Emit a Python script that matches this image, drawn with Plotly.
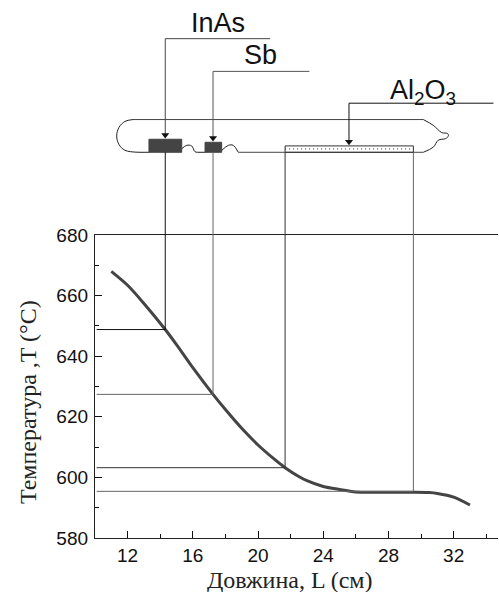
import plotly.graph_objects as go

# Temperature profile along the ampoule
length_cm = [11.0, 12.0, 13.0, 14.31, 15.0, 16.0, 17.24, 18.0, 19.0, 20.0, 21.0, 21.66,
             22.5, 23.0, 24.0, 25.0, 26.0, 27.0, 28.0, 29.53, 30.5, 31.0, 32.0, 33.0]
temp_c = [668.0, 663.4, 657.4, 648.8, 643.8, 636.2, 627.4, 622.4, 616.2, 610.7, 606.0, 603.2,
          600.3, 598.9, 597.0, 596.0, 595.2, 595.1, 595.1, 595.1, 595.0, 594.7, 593.5, 590.9]

# Source-zone positions and their read-off temperatures
zone_x = [14.31, 17.24, 21.66, 29.53]
zone_t = [648.8, 627.4, 603.2, 595.4]
zone_colors = ["#111111", "#666666", "#333333", "#666666"]

# Ampoule schematic, expressed in the same axis units
tube_bottom = 707.3
tube_top = 718.1
left_x = [12.33, 11.84, 11.47, 11.33, 11.47, 11.84, 12.76]
left_t = [718.1, 717.5, 715.5, 712.7, 709.9, 707.95, 707.3]
right_x = [30.14, 30.75, 31.27, 31.62, 31.68, 31.49, 31.06, 30.75, 30.14]
right_t = [718.1, 716.2, 713.8, 713.5, 712.7, 711.8, 711.3, 709.0, 707.3]
neck1_x = [15.32, 15.63, 15.93, 16.13, 16.3]
neck1_t = [708.5, 709.6, 709.4, 707.5, 707.3]
neck2_x = [17.77, 18.18, 18.48, 18.79]
neck2_t = [707.9, 709.6, 709.6, 707.3]
inas_x = [13.31, 15.32]
inas_t = 711.6
sb_x = [16.75, 17.77]
sb_t = 710.6
oxide_x = [21.66, 29.53]
oxide_t = 709.4

X_RANGE = [10, 34.72]
Y_RANGE = [580, 680]
Y_FULL = [580, 757.56]

fig = go.Figure()


def line(xs, ys, color="#222222", width=1.0, shape="linear", dash="solid"):
    fig.add_trace(go.Scatter(x=xs, y=ys, mode="lines", xaxis="x2", yaxis="y2", hoverinfo="skip",
                             line=dict(color=color, width=width, shape=shape, dash=dash,
                                       **({"smoothing": 1.0} if shape == "spline" else {}))))


def block(xs, top, color):
    fig.add_trace(go.Scatter(x=[xs[0], xs[1], xs[1], xs[0], xs[0]],
                             y=[top, top, tube_bottom, tube_bottom, top],
                             mode="lines", fill="toself", fillcolor=color, xaxis="x2", yaxis="y2",
                             hoverinfo="skip", line=dict(color=color, width=1)))


# Tube outline
line(left_x, left_t, shape="spline")
line(right_x, right_t, shape="spline")
line(neck1_x, neck1_t, shape="spline")
line(neck2_x, neck2_t, shape="spline")
line([left_x[0], right_x[0]], [tube_top, tube_top], color="#444444")
line([left_x[-1], inas_x[0]], [tube_bottom, tube_bottom])
line([neck1_x[-1], sb_x[0]], [tube_bottom, tube_bottom])
line([neck2_x[-1], right_x[-1]], [tube_bottom, tube_bottom], color="#444444")

# Charges
block(inas_x, inas_t, "#444444")
block(sb_x, sb_t, "#444444")
line([oxide_x[0], oxide_x[1], oxide_x[1], oxide_x[0], oxide_x[0]],
     [oxide_t, oxide_t, tube_bottom, tube_bottom, oxide_t], color="#333333")
line(oxide_x, [708.4, 708.4], color="#333333", width=1, dash="1px 3px")

# Leaders with arrowheads
leader_x = [[20.74, 14.31, 14.31], [23.15, 17.24, 17.24], [34.44, 25.58, 25.58]]
leader_t = [[744.8, 744.8, 712.6], [734.0, 734.0, 711.6], [723.5, 723.5, 710.4]]
leader_colors = ["#444444", "#555555", "#111111"]
for lx, lt, lc in zip(leader_x, leader_t, leader_colors):
    line(lx, lt, color=lc)
fig.add_trace(go.Scatter(x=[14.31, 17.24, 25.58], y=[713.0, 712.0, 710.8], mode="markers", xaxis="x2", yaxis="y2",
                         hoverinfo="skip",
                         marker=dict(symbol="triangle-down", size=7, color="#111111", line=dict(width=0))))

# Drop lines to the curve and across to the temperature axis
for zx, zt, zc in zip(zone_x, zone_t, zone_colors):
    line([zx, zx, 10.1], [tube_bottom, zt, zt], color=zc)

# Measured curve
fig.add_trace(go.Scatter(x=length_cm, y=temp_c, mode="lines", hoverinfo="skip",
                         line=dict(color="#444444", width=3, shape="spline", smoothing=0.8)))

label_font = dict(family="Liberation Sans, Arial, sans-serif", size=27, color="#111111")
for txt, lx, lt in [("InAs", 17.53, 749.9), ("Sb", 20.18, 739.3), ("Al<sub>2</sub>O<sub>3</sub>", 30.14, 727.2)]:
    fig.add_annotation(x=lx, y=lt, xref="x2", yref="y2", text=txt, showarrow=False, font=label_font)

title_font = dict(family="Liberation Serif, Times New Roman, serif", size=24, color="#222222")
tick_font = dict(family="Liberation Sans, Arial, sans-serif", size=19, color="#111111")

fig.add_annotation(text="Довжина, L (см)", xref="paper", yref="paper", x=0.4839, y=-0.078,
                   xanchor="center", yanchor="middle", showarrow=False, font=title_font)
fig.add_annotation(text="Температура ,T (°C)", xref="paper", yref="paper", x=-0.166, y=0.2528,
                   xanchor="center", yanchor="middle", showarrow=False, font=title_font, textangle=-90)

fig.update_layout(
    width=499, height=592, showlegend=False, paper_bgcolor="white", plot_bgcolor="rgba(0,0,0,0)",
    margin=dict(l=95, r=1, t=0, b=54, pad=0),
    xaxis=dict(range=X_RANGE, tick0=12, dtick=4, ticks="inside", ticklen=7, tickwidth=1.3,
               tickcolor="#111111", showgrid=False, zeroline=False, showline=True, linecolor="#222222", linewidth=1.3,
               minor=dict(ticks="inside", ticklen=4, tickwidth=1.2, tickcolor="#111111", dtick=2, tick0=12, showgrid=False),
               tickfont=tick_font, mirror=True, automargin=False),
    yaxis=dict(range=Y_RANGE, domain=[0, 303 / 538], tick0=580, dtick=20, ticks="inside", ticklen=7,
               tickwidth=1.3, tickcolor="#111111", showgrid=False, zeroline=False, showline=True,
               linecolor="#222222", linewidth=1.3,
               minor=dict(ticks="inside", ticklen=4, tickwidth=1.2, tickcolor="#111111", dtick=10, tick0=580, showgrid=False),
               tickfont=tick_font, automargin=False, ticklabelstandoff=2),
    xaxis2=dict(range=X_RANGE, domain=[0, 1], visible=False, anchor="y2", automargin=False),
    yaxis2=dict(range=Y_FULL, domain=[0, 1], visible=False, anchor="x2", automargin=False),
)
fig.write_html("out.html", config={"displayModeBar": False}, post_script="document.body.style.margin='0';")
